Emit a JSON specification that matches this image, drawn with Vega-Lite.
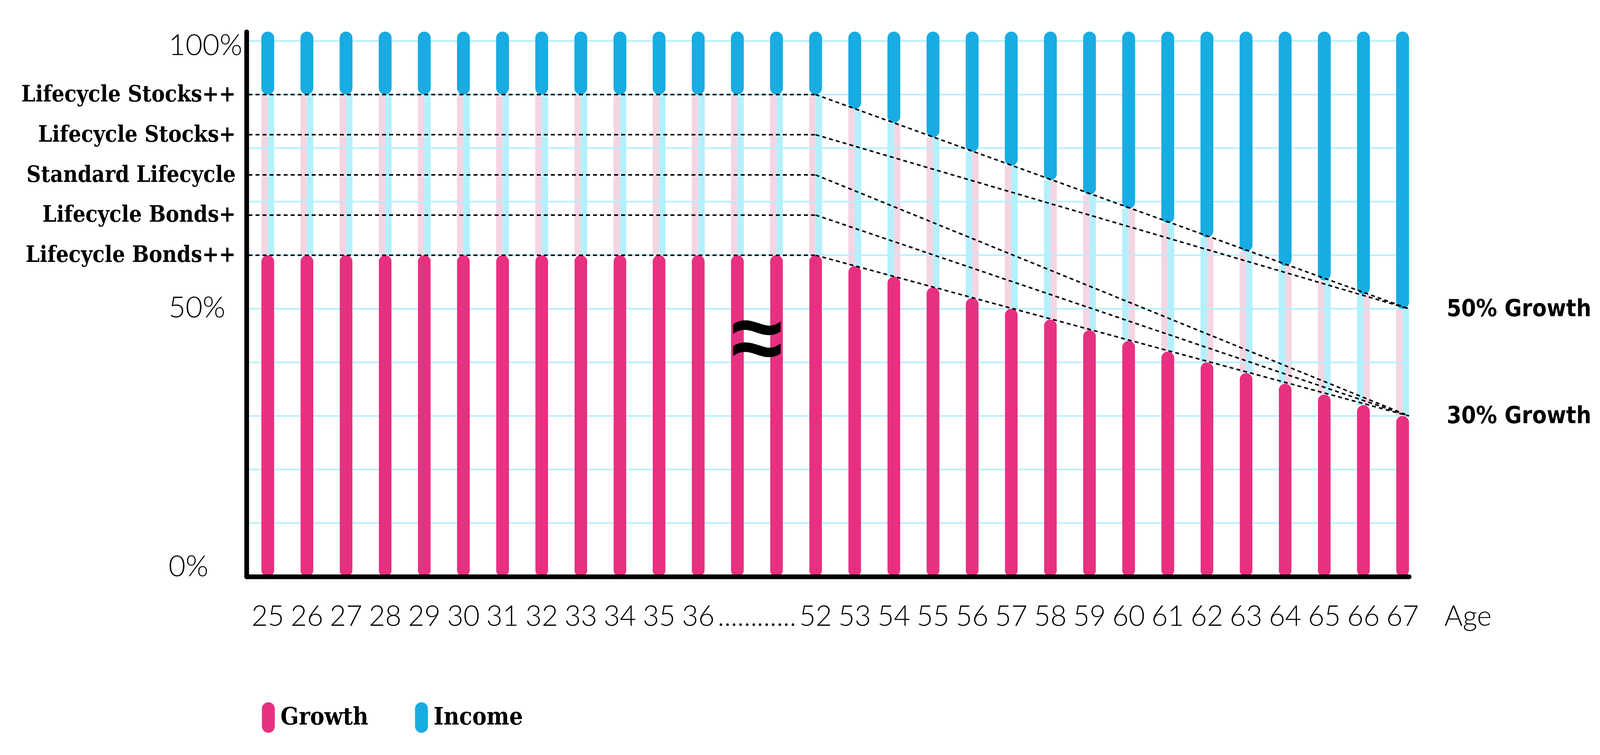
{
  "$schema": "https://vega.github.io/schema/vega-lite/v6.json",
  "width": "container",
  "height": 1396,
  "autosize": {"type": "fit-x", "contains": "padding"},
  "padding": {"left": 54, "top": 80, "right": 22, "bottom": 30},
  "background": "white",
  "config": {"view": {"stroke": null}},

  "datasets": {
    "bars": [
      {"age": "25", "growth": 60, "income": 90},
      {"age": "26", "growth": 60, "income": 90},
      {"age": "27", "growth": 60, "income": 90},
      {"age": "28", "growth": 60, "income": 90},
      {"age": "29", "growth": 60, "income": 90},
      {"age": "30", "growth": 60, "income": 90},
      {"age": "31", "growth": 60, "income": 90},
      {"age": "32", "growth": 60, "income": 90},
      {"age": "33", "growth": 60, "income": 90},
      {"age": "34", "growth": 60, "income": 90},
      {"age": "35", "growth": 60, "income": 90},
      {"age": "36", "growth": 60, "income": 90},
      {"age": "gap-a", "growth": 60, "income": 90},
      {"age": "gap-b", "growth": 60, "income": 90},
      {"age": "52", "growth": 60, "income": 90},
      {"age": "53", "growth": 58, "income": 87.3},
      {"age": "54", "growth": 56, "income": 84.7},
      {"age": "55", "growth": 54, "income": 82},
      {"age": "56", "growth": 52, "income": 79.3},
      {"age": "57", "growth": 50, "income": 76.7},
      {"age": "58", "growth": 48, "income": 74},
      {"age": "59", "growth": 46, "income": 71.3},
      {"age": "60", "growth": 44, "income": 68.7},
      {"age": "61", "growth": 42, "income": 66},
      {"age": "62", "growth": 40, "income": 63.3},
      {"age": "63", "growth": 38, "income": 60.7},
      {"age": "64", "growth": 36, "income": 58},
      {"age": "65", "growth": 34, "income": 55.3},
      {"age": "66", "growth": 32, "income": 52.7},
      {"age": "67", "growth": 30, "income": 50}
    ],
    "strategies": [
      {"strategy": "Lifecycle Stocks++", "start": 90, "end": 50},
      {"strategy": "Lifecycle Stocks+", "start": 82.5, "end": 50},
      {"strategy": "Standard Lifecycle", "start": 75, "end": 30},
      {"strategy": "Lifecycle Bonds+", "start": 67.5, "end": 30},
      {"strategy": "Lifecycle Bonds++", "start": 60, "end": 30}
    ],
    "grid": [
      {"pct": 10}, {"pct": 20}, {"pct": 30}, {"pct": 40}, {"pct": 50},
      {"pct": 60}, {"pct": 70}, {"pct": 80}, {"pct": 90}, {"pct": 100}
    ]
  },

  "layer": [
    {
      "data": {"name": "bars"},
      "transform": [{"filter": "indexof(['54','56','58','60','62','64','66'], datum.age) < 0"}],
      "mark": {"type": "bar", "color": "#F4D5E3", "width": 16.5, "xOffset": -8.25},
      "encoding": {
        "x": {
          "field": "age", "type": "ordinal",
          "scale": {"type": "band", "domain": ["25","26","27","28","29","30","31","32","33","34","35","36","gap-a","gap-b","52","53","54","55","56","57","58","59","60","61","62","63","64","65","66","67"], "paddingInner": 0.672, "paddingOuter": 0.19, "align": 1},
          "axis": {
            "domain": true, "domainColor": "black", "domainWidth": 12, "domainCap": "round",
            "ticks": false, "grid": false,
            "labelAngle": 0, "labelOverlap": false, "labelPadding": 68, "labelBaseline": "top", "labelLimit": 1000,
            "labelFont": "Lato", "labelFontWeight": 300, "labelFontSize": 72, "labelColor": "black",
            "labelExpr": "indexof(datum.value, 'gap') == 0 ? '......' : datum.value",
            "title": "Age", "titleFont": "Lato", "titleFontWeight": 300, "titleFontSize": 72, "titleColor": "black",
            "titleAlign": "left", "titleBaseline": "top", "titleX": {"expr": "width + 90"}, "titleY": 68,
            "zindex": 1
          }
        },
        "y": {"field": "growth", "type": "quantitative", "scale": {"domain": [0, 101.75], "nice": false}, "axis": null},
        "y2": {"field": "income"}
      }
    },
    {
      "data": {"name": "bars"},
      "transform": [{"filter": "indexof(['54','56','58','60','62','64','66'], datum.age) >= 0"}],
      "mark": {"type": "bar", "color": "#F4D5E3", "width": 16.5, "xOffset": 8.25},
      "encoding": {
        "x": {"field": "age", "type": "ordinal", "scale": {"type": "band", "domain": ["25","26","27","28","29","30","31","32","33","34","35","36","gap-a","gap-b","52","53","54","55","56","57","58","59","60","61","62","63","64","65","66","67"], "paddingInner": 0.672, "paddingOuter": 0.19, "align": 1}},
        "y": {"field": "growth", "type": "quantitative", "scale": {"domain": [0, 101.75], "nice": false}, "axis": null},
        "y2": {"field": "income"}
      }
    },
    {
      "data": {"name": "bars"},
      "transform": [{"filter": "indexof(['54','56','58','60','62','64','66'], datum.age) < 0"}],
      "mark": {"type": "bar", "color": "#B4F0FC", "width": 16.5, "xOffset": 8.25},
      "encoding": {
        "x": {"field": "age", "type": "ordinal", "scale": {"type": "band", "domain": ["25","26","27","28","29","30","31","32","33","34","35","36","gap-a","gap-b","52","53","54","55","56","57","58","59","60","61","62","63","64","65","66","67"], "paddingInner": 0.672, "paddingOuter": 0.19, "align": 1}},
        "y": {"field": "growth", "type": "quantitative", "scale": {"domain": [0, 101.75], "nice": false}, "axis": null},
        "y2": {"field": "income"}
      }
    },
    {
      "data": {"name": "bars"},
      "transform": [{"filter": "indexof(['54','56','58','60','62','64','66'], datum.age) >= 0"}],
      "mark": {"type": "bar", "color": "#B4F0FC", "width": 16.5, "xOffset": -8.25},
      "encoding": {
        "x": {"field": "age", "type": "ordinal", "scale": {"type": "band", "domain": ["25","26","27","28","29","30","31","32","33","34","35","36","gap-a","gap-b","52","53","54","55","56","57","58","59","60","61","62","63","64","65","66","67"], "paddingInner": 0.672, "paddingOuter": 0.19, "align": 1}},
        "y": {"field": "growth", "type": "quantitative", "scale": {"domain": [0, 101.75], "nice": false}, "axis": null},
        "y2": {"field": "income"}
      }
    },
    {
      "data": {"name": "grid"},
      "mark": {"type": "rule", "color": "#B4F0FC", "strokeWidth": 4},
      "encoding": {
        "y": {
          "field": "pct", "type": "quantitative",
          "scale": {"domain": [0, 101.75], "nice": false},
          "axis": {
            "orient": "left", "values": [0, 50, 100], "labelExpr": "datum.value + '%'",
            "domain": true, "domainColor": "black", "domainWidth": 12, "domainCap": "round",
            "ticks": false, "grid": false, "title": null,
            "labelAlign": "left", "labelPadding": 200, "labelFlush": false, "labelOverlap": false, "labelLimit": 1000,
            "labelFont": "Lato", "labelFontWeight": 300, "labelFontSize": 75, "labelColor": "black",
            "labelBaseline": {"condition": {"test": "datum.value == 0", "value": "alphabetic"}, "value": "middle"},
            "labelOffset": {"condition": {"test": "datum.value == 100", "value": 12}, "value": -2},
            "zindex": 1
          }
        }
      }
    },
    {
      "data": {"name": "bars"},
      "mark": {"type": "bar", "cornerRadius": 16.5},
      "encoding": {
        "x": {"field": "age", "type": "ordinal", "scale": {"type": "band", "domain": ["25","26","27","28","29","30","31","32","33","34","35","36","gap-a","gap-b","52","53","54","55","56","57","58","59","60","61","62","63","64","65","66","67"], "paddingInner": 0.672, "paddingOuter": 0.19, "align": 1}},
        "y": {"field": "growth", "type": "quantitative", "scale": {"domain": [0, 101.75], "nice": false}, "axis": null},
        "color": {
          "datum": "Growth",
          "scale": {"domain": ["Growth", "Income"], "range": ["#E83080", "#18ACE2"]},
          "legend": {
            "orient": "bottom", "direction": "horizontal", "offset": 166,
            "title": null, "padding": 17,
            "symbolType": "M-0.423,-0.577A0.423,0.423 0 0 1 0.423,-0.577L0.423,0.577A0.423,0.423 0 0 1 -0.423,0.577Z",
            "symbolSize": 6084, "symbolStrokeWidth": 0, "symbolOpacity": 1,
            "labelFont": "DejaVu Serif Condensed, DejaVu Serif", "labelFontWeight": "bold", "labelFontSize": 61,
            "labelColor": "black", "labelOffset": -8, "labelLimit": 0, "columnPadding": 97
          }
        }
      }
    },
    {
      "data": {"name": "bars"},
      "mark": {"type": "bar", "cornerRadius": 16.5},
      "encoding": {
        "x": {"field": "age", "type": "ordinal", "scale": {"type": "band", "domain": ["25","26","27","28","29","30","31","32","33","34","35","36","gap-a","gap-b","52","53","54","55","56","57","58","59","60","61","62","63","64","65","66","67"], "paddingInner": 0.672, "paddingOuter": 0.19, "align": 1}},
        "y": {"field": "income", "type": "quantitative", "scale": {"domain": [0, 101.75], "nice": false}, "axis": null},
        "y2": {"datum": 101.75},
        "color": {"datum": "Income"}
      }
    },
    {
      "data": {"name": "strategies"},
      "mark": {"type": "rule", "color": "black", "strokeWidth": 4, "strokeDash": [10, 8]},
      "encoding": {
        "x": {"datum": "25", "type": "ordinal", "bandPosition": -1, "scale": {"type": "band", "domain": ["25","26","27","28","29","30","31","32","33","34","35","36","gap-a","gap-b","52","53","54","55","56","57","58","59","60","61","62","63","64","65","66","67"], "paddingInner": 0.672, "paddingOuter": 0.19, "align": 1}},
        "x2": {"datum": "52", "bandPosition": 0.5},
        "y": {
          "field": "start", "type": "quantitative",
          "scale": {"domain": [0, 101.75], "nice": false},
          "axis": {
            "orient": "left", "values": [60, 67.5, 75, 82.5, 90],
            "labelExpr": "datum.value == 90 ? 'Lifecycle Stocks++' : datum.value == 82.5 ? 'Lifecycle Stocks+' : datum.value == 75 ? 'Standard Lifecycle' : datum.value == 67.5 ? 'Lifecycle Bonds+' : 'Lifecycle Bonds++'",
            "domain": false, "ticks": false, "grid": false, "title": null,
            "labelAlign": "right", "labelBaseline": "middle", "labelPadding": 28,
            "labelFlush": false, "labelOverlap": false, "labelLimit": 1000,
            "labelFont": "DejaVu Serif Condensed, DejaVu Serif", "labelFontWeight": "bold", "labelFontSize": 57, "labelColor": "black"
          }
        },
        "y2": {"field": "start"}
      }
    },
    {
      "data": {"name": "strategies"},
      "mark": {"type": "rule", "color": "black", "strokeWidth": 4, "strokeDash": [10, 8]},
      "encoding": {
        "x": {"datum": "52", "type": "ordinal", "bandPosition": 0.5, "scale": {"type": "band", "domain": ["25","26","27","28","29","30","31","32","33","34","35","36","gap-a","gap-b","52","53","54","55","56","57","58","59","60","61","62","63","64","65","66","67"], "paddingInner": 0.672, "paddingOuter": 0.19, "align": 1}},
        "x2": {"datum": "67", "bandPosition": 1},
        "y": {
          "field": "start", "type": "quantitative",
          "scale": {"domain": [0, 101.75], "nice": false},
          "axis": {
            "orient": "right", "values": [30, 50], "labelExpr": "datum.value + '% Growth'",
            "domain": false, "ticks": false, "grid": false, "title": null,
            "labelAlign": "left", "labelBaseline": "middle", "labelPadding": 96,
            "labelFlush": false, "labelOverlap": false, "labelLimit": 1000,
            "labelFont": "DejaVu Sans Condensed, DejaVu Sans", "labelFontWeight": "bold", "labelFontSize": 60, "labelColor": "black"
          }
        },
        "y2": {"field": "end"}
      }
    },
    {
      "data": {"values": [{"note": "≈"}]},
      "mark": {"type": "text", "font": "Liberation Sans", "fontWeight": "bold", "fontSize": 240, "color": "black", "align": "center", "baseline": "middle"},
      "encoding": {
        "x": {"datum": "gap-a", "type": "ordinal", "bandPosition": 2.024, "scale": {"type": "band", "domain": ["25","26","27","28","29","30","31","32","33","34","35","36","gap-a","gap-b","52","53","54","55","56","57","58","59","60","61","62","63","64","65","66","67"], "paddingInner": 0.672, "paddingOuter": 0.19, "align": 1}},
        "y": {"datum": 43.9, "type": "quantitative", "scale": {"domain": [0, 101.75], "nice": false}, "axis": null},
        "text": {"field": "note"}
      }
    }
  ],
  "resolve": {"axis": {"y": "independent"}}
}
